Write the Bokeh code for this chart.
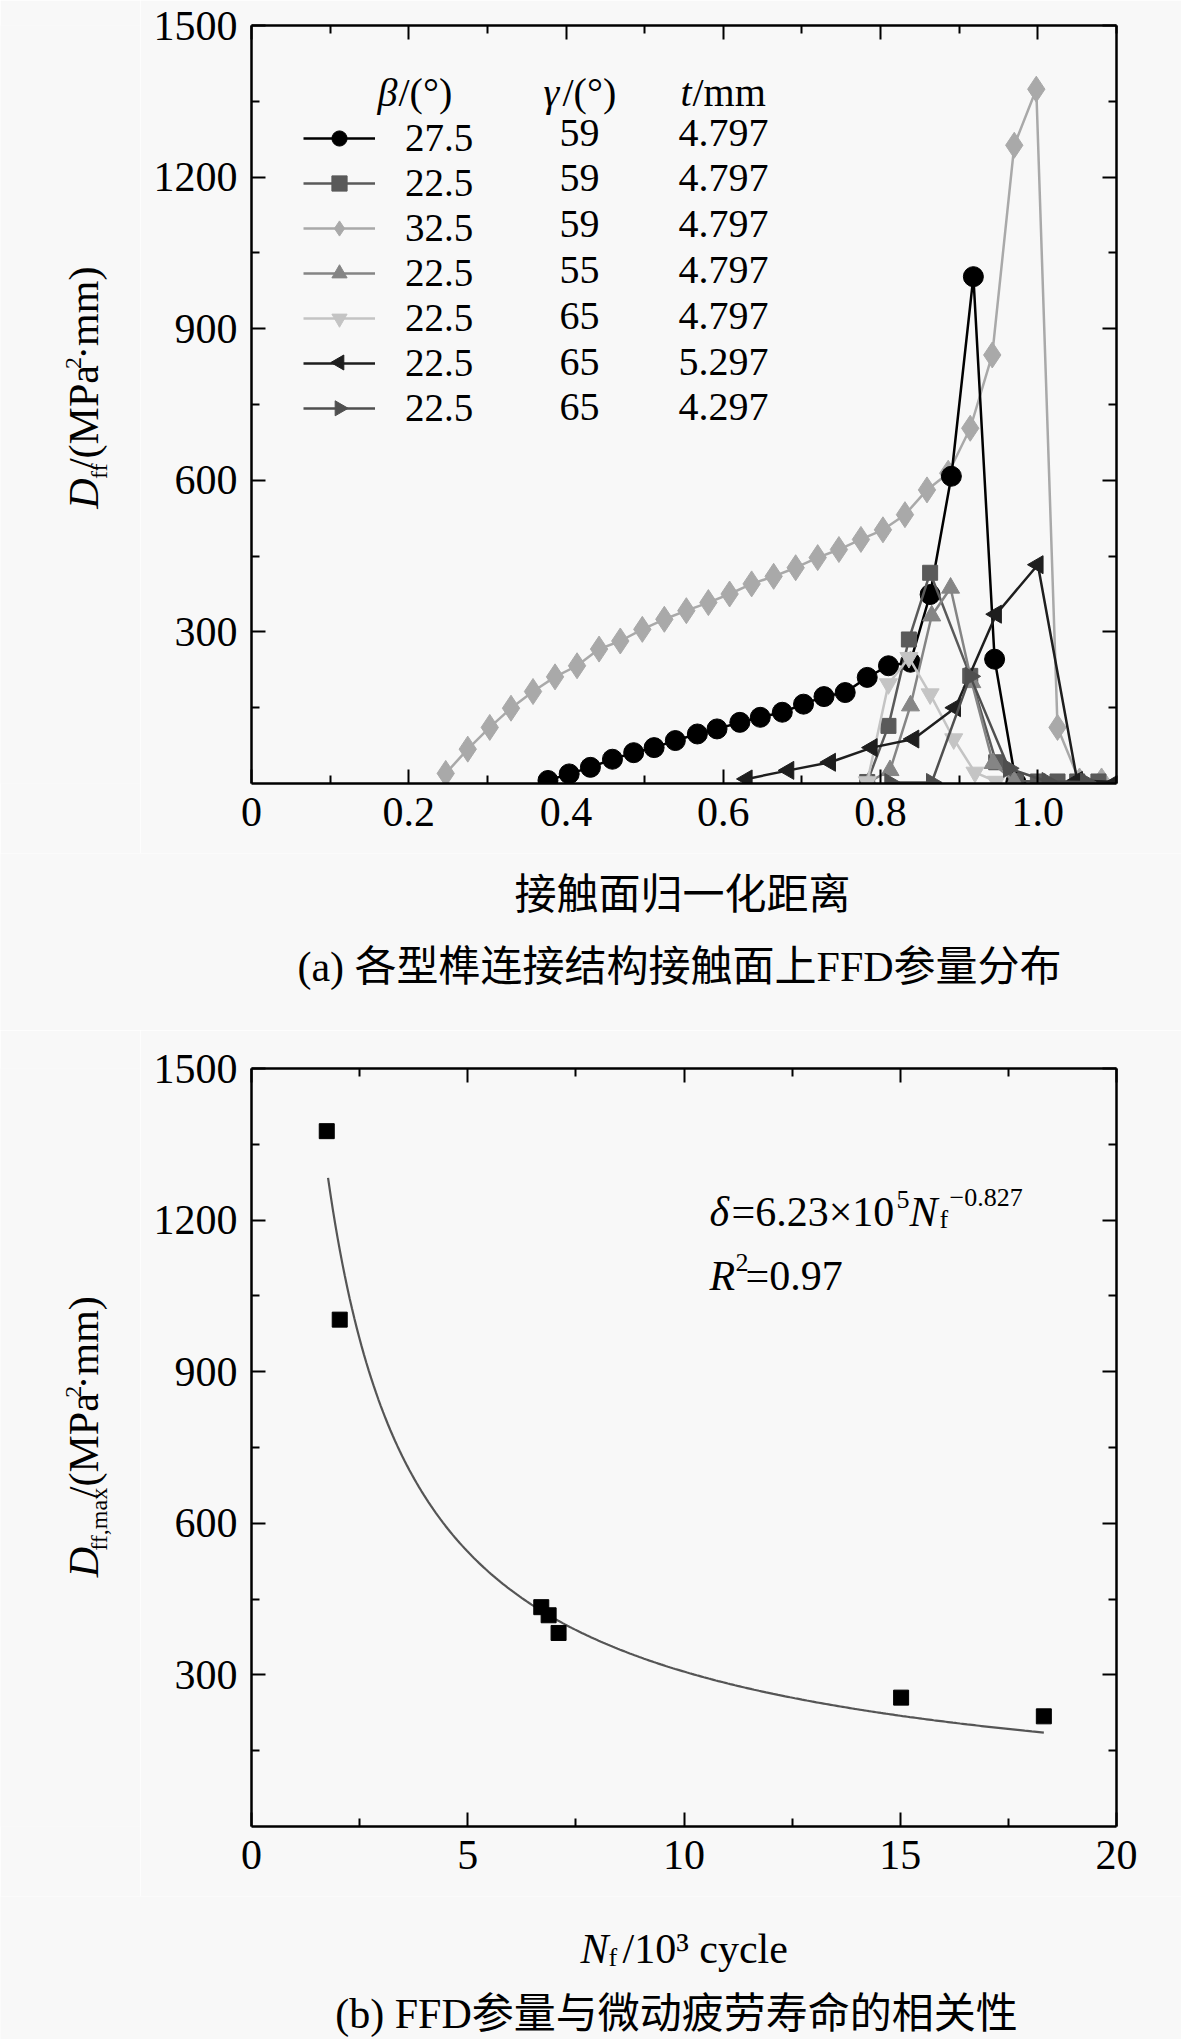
import numpy as np
from bokeh.plotting import figure
from bokeh.models import Range1d, FixedTicker, LinearAxis, Label, Legend, LegendItem
from bokeh.layouts import column, row
from bokeh.embed import file_html
from bokeh.resources import INLINE

# ---------------- panel (a) data ----------------
beta_vals = ["27.5", "22.5", "32.5", "22.5", "22.5", "22.5", "22.5"]
gamma_vals = ["59", "59", "59", "55", "65", "65", "65"]
t_vals = ["4.797", "4.797", "4.797", "4.797", "4.797", "5.297", "4.297"]

# beta=27.5, gamma=59, t=4.797 (circles)
x_c = [0.377, 0.404, 0.431, 0.459, 0.486, 0.512, 0.539, 0.567, 0.592, 0.621, 0.647, 0.675,
       0.702, 0.728, 0.755, 0.783, 0.810, 0.838, 0.863, 0.890, 0.918, 0.945, 0.972]
y_c = [6, 19, 32, 48, 61, 71, 85, 98, 108, 121, 131, 141,
       157, 172, 180, 210, 233, 240, 374, 608, 1003, 246, 3]
# beta=22.5, gamma=59, t=4.797 (squares)
x_s = [0.783, 0.810, 0.836, 0.863, 0.914, 0.947, 0.972, 1.000, 1.025, 1.050, 1.077]
y_s = [3, 114, 285, 417, 213, 42, 5, 4, 4, 4, 4]
# beta=32.5, gamma=59, t=4.797 (diamonds)
x_d = [0.247, 0.275, 0.303, 0.330, 0.358, 0.386, 0.414, 0.442, 0.469, 0.497, 0.525, 0.553,
       0.581, 0.608, 0.636, 0.664, 0.692, 0.720, 0.747, 0.775, 0.803, 0.831, 0.859, 0.886,
       0.914, 0.942, 0.970, 0.998, 1.025, 1.053, 1.081]
y_d = [20, 68, 111, 149, 182, 211, 233, 266, 282, 305, 325, 342,
       358, 375, 395, 410, 427, 447, 463, 483, 502, 532, 581, 614,
       703, 848, 1263, 1374, 111, 5, 5]
# beta=22.5, gamma=55, t=4.797 (up triangles)
x_u = [0.785, 0.812, 0.838, 0.865, 0.889, 0.916, 0.943, 0.970]
y_u = [3, 26, 154, 332, 387, 200, 40, 4]
# beta=22.5, gamma=65, t=4.797 (down triangles)
x_v = [0.783, 0.810, 0.836, 0.863, 0.893, 0.920, 0.947]
y_v = [3, 197, 249, 177, 88, 22, 4]
# beta=22.5, gamma=65, t=5.297 (left triangles)
x_l = [0.630, 0.683, 0.736, 0.789, 0.842, 0.895, 0.947, 1.000, 1.050, 1.100]
y_l = [9, 26, 42, 71, 88, 150, 335, 433, 6, 3]
# beta=22.5, gamma=65, t=4.297 (right triangles)
x_r = [0.812, 0.865, 0.914, 0.963, 1.012, 1.061]
y_r = [2, 2, 212, 30, 4, 3]

xa_ticks = [0, 0.2, 0.4, 0.6, 0.8, 1.0]
xa_labels = ["0", "0.2", "0.4", "0.6", "0.8", "1.0"]
ya_ticks = [300, 600, 900, 1200, 1500]

# ---------------- panel (b) data ----------------
nf = [1.74, 2.04, 6.70, 6.87, 7.10, 15.02, 18.32]
dmax = [1376, 1003, 434, 418, 383, 255, 218]
FIT_A = 6.23e5
FIT_B = -0.827
FIT_N0, FIT_N1 = 1.77, 18.32
xb_ticks = [0, 5, 10, 15, 20]
yb_ticks = [300, 600, 900, 1200, 1500]

SERIF = "Liberation Serif"
MIXED = "Liberation Serif, Noto Sans CJK SC"
BG = "#f8f8f8"

W = {'D': 0.722, 'f': 0.333, ',': 0.25, 'm': 0.778, 'a': 0.444, 'x': 0.5, '/': 0.278,
     '(': 0.333, ')': 0.333, 'M': 0.889, 'P': 0.556, '·': 0.25, '2': 0.5}


def tw(s, size):
    return sum(W.get(c, 0.5) for c in s) * size


def style_axis(ax, labels=True):
    ax.axis_line_width = 2.5
    ax.axis_line_color = "black"
    ax.major_tick_in = 14
    ax.major_tick_out = 0
    ax.minor_tick_in = 8
    ax.minor_tick_out = 0
    ax.major_tick_line_width = 2
    ax.minor_tick_line_width = 2
    ax.major_label_text_font = SERIF
    if labels:
        ax.major_label_text_color = "black"
        ax.major_label_text_font_size = "42px"
        ax.major_label_standoff = 14
    else:
        ax.major_label_text_color = None
        ax.major_label_standoff = 0


def make_fig(xr, yr, w, h, left, top, bottom, frame_h, right):
    p = figure(width=w, height=h, frame_width=865, frame_height=frame_h, x_range=xr, y_range=yr,
               output_backend="svg", toolbar_location=None,
               min_border_left=left, min_border_right=right,
               min_border_top=top, min_border_bottom=bottom,
               background_fill_color=BG, border_fill_color=BG, outline_line_color=None)
    p.xgrid.visible = False
    p.ygrid.visible = False
    return p


def holder(w, h, left, top):
    f = figure(width=w, height=h, x_range=Range1d(left, left + w), y_range=Range1d(top + h, top),
               x_axis_type=None, y_axis_type=None, output_backend="svg", toolbar_location=None,
               min_border=0, background_fill_color=BG, border_fill_color=BG,
               outline_line_color=None)
    return f


def add_axes(p, xt, xminor, yt, yminor, xover=None):
    p.xaxis.ticker = FixedTicker(ticks=xt, minor_ticks=xminor)
    p.yaxis.ticker = FixedTicker(ticks=yt, minor_ticks=yminor)
    if xover:
        p.xaxis.major_label_overrides = xover
    for ax in p.xaxis + p.yaxis:
        style_axis(ax, True)
    top = LinearAxis(ticker=FixedTicker(ticks=xt, minor_ticks=xminor))
    right = LinearAxis(ticker=FixedTicker(ticks=yt, minor_ticks=yminor))
    style_axis(top, False)
    style_axis(right, False)
    p.add_layout(top, "above")
    p.add_layout(right, "right")


def ident(X, Y):
    return (X, Y)


def txt(p, conv, X, Y, s, size=42, italic=False, align="left", baseline="alphabetic",
        angle=0.0, font=SERIF):
    x, y = conv(X, Y)
    p.add_layout(Label(x=x, y=y, text=s, text_font=font, text_font_size=f"{size}px",
                       text_font_style="italic" if italic else "normal",
                       text_align=align, text_baseline=baseline, angle=angle,
                       text_color="black"))


def ylabel(p, Xb, Ystart, parts):
    # rotated (bottom-to-top) rich label; every part is anchored at its own centre
    Y = Ystart
    for s, size, italic, shift, gap_before, gap_after in parts:
        Y -= gap_before
        w = tw(s, size)
        cx = Xb + shift - 0.3375 * size
        cy = Y - w / 2
        txt(p, ident, cx, cy, s, size, italic, align="center", baseline="middle",
            angle=np.pi / 2)
        Y -= w + gap_after


TOTAL_W = 1181
LEFT_W = 140
MAIN_W = TOTAL_W - LEFT_W
FRAME_L = 251
RIGHT_B = MAIN_W - (FRAME_L - LEFT_W) - 865

# ================= panel (a) =================
A_TOP = 0
A_H = 853


def fa(X, Y):
    return ((X - 251) / 786.4, (783 - Y) * 1500 / 758)


p1 = make_fig(Range1d(0, 1.1), Range1d(0, 1500), MAIN_W, A_H, FRAME_L - LEFT_W, 25, 70, 758,
              RIGHT_B)
add_axes(p1, xa_ticks, [0.1, 0.3, 0.5, 0.7, 0.9, 1.1], ya_ticks, [150, 450, 750, 1050, 1350],
         xover={t: l for t, l in zip(xa_ticks, xa_labels)})

styles = [
    (x_c, y_c, "circle", "#000000", 20, 0.0),
    (x_s, y_s, "square", "#5a5a5a", 15, 0.0),
    (x_d, y_d, "diamond", "#a9a9a9", 26, 0.0),
    (x_u, y_u, "triangle", "#858585", 18, 0.0),
    (x_v, y_v, "inverted_triangle", "#c4c4c4", 18, 0.0),
    (x_l, y_l, "triangle", "#1e1e1e", 18, np.pi / 2),
    (x_r, y_r, "triangle", "#4f4f4f", 18, -np.pi / 2),
]
draw_order = [2, 0, 1, 3, 4, 5, 6]
rend = {}
for i in draw_order:
    xs, ys, mk, col, sz, ang = styles[i]
    lr = p1.line(xs, ys, line_color=col, line_width=2.5)
    sr = p1.scatter(xs, ys, marker=mk, size=sz, angle=ang, fill_color=col, line_color=col)
    rend[i] = [lr, sr] if ang == 0.0 else [lr]

LEG_ROW0 = 132
LEG_DY = 45.8
items = [LegendItem(label=beta_vals[i], renderers=rend[i]) for i in range(7)]
legend = Legend(items=items, location=(52, 353), glyph_width=72, glyph_height=38,
                label_height=38, spacing=0, padding=0, margin=0, label_standoff=30,
                border_line_color=None, background_fill_alpha=0,
                label_text_font=SERIF, label_text_font_size="39px", label_text_color="black")
p1.add_layout(legend)

row_y = [LEG_ROW0 + LEG_DY * i for i in range(7)]
# rotated triangle keys for the two rows whose markers are rotated
for i in (5, 6):
    _, _, mk, col, _, ang = styles[i]
    kx, ky = fa(339, row_y[i] + 1)
    p1.scatter([kx], [ky], marker=mk, size=15, angle=ang, fill_color=col, line_color=col)
for i in range(7):
    txt(p1, fa, 579, row_y[i], gamma_vals[i], size=40, align="center", baseline="middle")
    txt(p1, fa, 678, row_y[i], t_vals[i], size=40, baseline="middle")
hy = 92
txt(p1, fa, 377, hy, "β", size=40, italic=True, baseline="middle")
txt(p1, fa, 398, hy, "/(°)", size=40, baseline="middle")
txt(p1, fa, 543, hy, "γ", size=40, italic=True, baseline="middle")
txt(p1, fa, 562, hy, "/(°)", size=40, baseline="middle")
txt(p1, fa, 680, hy, "t", size=40, italic=True, baseline="middle")
txt(p1, fa, 692, hy, "/mm", size=40, baseline="middle")

YPARTS_A = [("D", 42, True, 0, 0, 2), ("ff", 24, False, 9, 0, 0),
            ("/(MPa", 42, False, 0, 0, 0), ("2", 24, False, -17, 3, 0),
            ("·mm)", 42, False, 0, 5, 0)]
yl1 = holder(LEFT_W, A_H, 0, A_TOP)
ylabel(yl1, 98, 542, YPARTS_A)

XA_TOP = A_TOP + A_H
XA_H = 1030 - XA_TOP
xl1 = holder(TOTAL_W, XA_H, 0, XA_TOP)
txt(xl1, ident, 682, 890, "接触面归一化距离", align="center", baseline="middle",
    font="Noto Sans CJK SC")
txt(xl1, ident, 679, 966, "(a) 各型榫连接结构接触面上FFD参量分布", align="center",
    baseline="middle", font=MIXED)

# ================= panel (b) =================
B_TOP = XA_TOP + XA_H
B_H = 866


def fb(X, Y):
    return ((X - 251) * 20 / 865, (1826 - Y) * 1500 / 758)


p2 = make_fig(Range1d(0, 20), Range1d(0, 1500), MAIN_W, B_H, FRAME_L - LEFT_W, 38, 70, 758,
              RIGHT_B)
add_axes(p2, xb_ticks, [2.5, 7.5, 12.5, 17.5], yb_ticks, [150, 450, 750, 1050, 1350])

nfit = np.linspace(FIT_N0, FIT_N1, 300)
dfit = FIT_A * (nfit * 1000.0) ** FIT_B
p2.line(nfit, dfit, line_color="#555555", line_width=2.2)
p2.scatter(nf, dmax, marker="square", size=15, fill_color="black", line_color="black")

txt(p2, fb, 709, 1211, "δ", italic=True)
txt(p2, fb, 731, 1211, "=6.23×10")
txt(p2, fb, 896, 1199, "5", size=26)
txt(p2, fb, 909, 1211, "N", italic=True)
txt(p2, fb, 939, 1219, "f", size=26)
txt(p2, fb, 949, 1197, "−0.827", size=26)
txt(p2, fb, 709, 1275, "R", italic=True)
txt(p2, fb, 735, 1262, "2", size=26)
txt(p2, fb, 745, 1275, "=0.97")

YPARTS_B = [("D", 42, True, 0, 0, 2), ("ff,max", 24, False, 9, 0, 0),
            ("/(MPa", 42, False, 0, 0, 0), ("2", 24, False, -17, 3, 0),
            ("·mm)", 42, False, 0, 5, 0)]
yl2 = holder(LEFT_W, B_H, 0, B_TOP)
ylabel(yl2, 98, 1609, YPARTS_B)

XB_TOP = B_TOP + B_H
XB_H = 2039 - XB_TOP
xl2 = holder(TOTAL_W, XB_H, 0, XB_TOP)
txt(xl2, ident, 580, 1948, "N", italic=True)
txt(xl2, ident, 608, 1957, "f", size=26)
txt(xl2, ident, 622, 1948, "/10³ cycle")
txt(xl2, ident, 676, 2013, "(b) FFD参量与微动疲劳寿命的相关性", align="center",
    baseline="middle", font=MIXED)

layout = column(row(yl1, p1, spacing=0), xl1, row(yl2, p2, spacing=0), xl2, spacing=0)
open("out.html", "w").write(file_html(layout, INLINE))
